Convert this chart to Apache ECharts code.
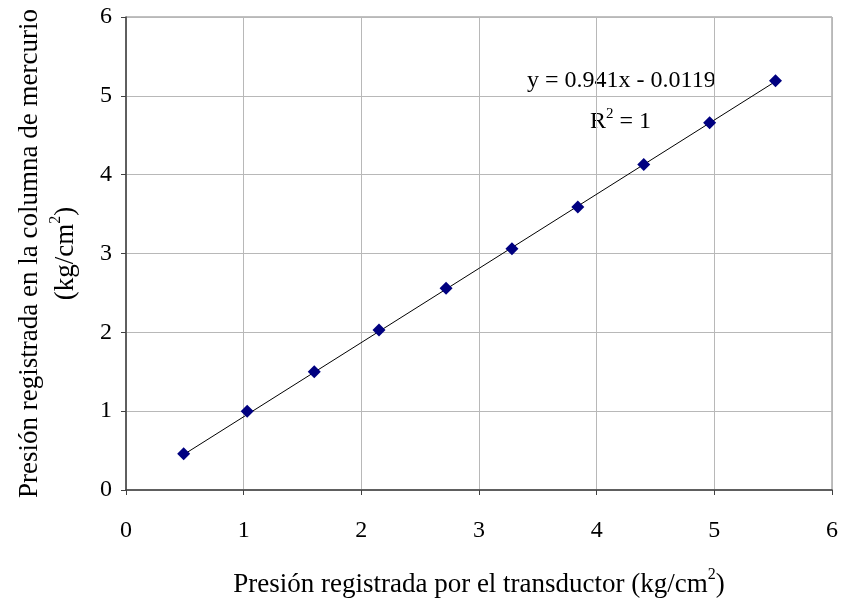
<!DOCTYPE html>
<html>
<head>
<meta charset="utf-8">
<script src="https://cdn.jsdelivr.net/npm/echarts@6/dist/echarts.min.js"></script>
<style>
  html, body { margin: 0; padding: 0; background: #fff; }
  #chart { width: 842px; height: 601px; }
</style>
</head>
<body>
<div id="chart"></div>
<script>
// presion del transductor vs columna de mercurio (kg/cm2)
const transductor = [0.49, 1.03, 1.60, 2.15, 2.72, 3.28, 3.84, 4.40, 4.96, 5.52]
const mercurio = [0.46, 1.00, 1.50, 2.03, 2.56, 3.06, 3.59, 4.13, 4.66, 5.19]
const pendiente = 0.941
const intercepto = -0.0119
const axisTicks = [0, 1, 2, 3, 4, 5, 6]

const font = 'Liberation Serif'
const puntos = transductor.map((x, i) => [x, mercurio[i]])
const xIni = transductor[0]
const xFin = transductor[transductor.length - 1]
const tendencia = [
  [xIni, pendiente * xIni + intercepto],
  [xFin, pendiente * xFin + intercepto],
]

const chart = echarts.init(document.getElementById('chart'))

const supRich = {
  base: { fontFamily: font, fontSize: 27, color: '#000', lineHeight: 36 },
  sup: { fontFamily: font, fontSize: 16, color: '#000', lineHeight: 36, verticalAlign: 'top' },
}
const eqRich = {
  base: { fontFamily: font, fontSize: 24, color: '#000', lineHeight: 30 },
  sup: { fontFamily: font, fontSize: 15, color: '#000', lineHeight: 30, verticalAlign: 'top' },
}

chart.setOption({
  animation: false,
  backgroundColor: '#fff',
  grid: {
    left: 126, right: 10, top: 17, bottom: 111,
    outerBoundsMode: 'none',
    show: true, borderColor: '#808080', borderWidth: 1,
  },
  xAxis: {
    type: 'value',
    min: axisTicks[0],
    max: axisTicks[axisTicks.length - 1],
    interval: 1,
    name: '{base|Presión registrada por el transductor (kg/cm}{sup|2}{base|)}',
    nameLocation: 'middle',
    nameGap: 77,
    nameTextStyle: { rich: supRich },
    axisLine: { onZero: false, lineStyle: { color: '#404040', width: 1.5 } },
    axisTick: { inside: false, length: 5, lineStyle: { color: '#404040' } },
    axisLabel: { color: '#000', fontFamily: font, fontSize: 24, margin: 29 },
    splitLine: { show: true, lineStyle: { color: '#b8b8b8', width: 1 } },
  },
  yAxis: {
    type: 'value',
    min: axisTicks[0],
    max: axisTicks[axisTicks.length - 1],
    interval: 1,
    name: '{base|Presión registrada en la columna de mercurio}\n{base|(kg/cm}{sup|2}{base|)}',
    nameLocation: 'middle',
    nameGap: 42,
    nameTextStyle: { rich: supRich },
    axisLine: { onZero: false, lineStyle: { color: '#404040', width: 1.5 } },
    axisTick: { inside: false, length: 5, lineStyle: { color: '#404040' } },
    axisLabel: { color: '#000', fontFamily: font, fontSize: 24, margin: 14 },
    splitLine: { show: true, lineStyle: { color: '#b8b8b8', width: 1 } },
  },
  graphic: [
    {
      type: 'text',
      left: 527,
      top: 69,
      style: { text: '{base|y = 0.941x - 0.0119}', rich: eqRich },
    },
    {
      type: 'text',
      left: 590,
      top: 107,
      style: { text: '{base|R}{sup|2}{base| = 1}', rich: eqRich },
    },
  ],
  series: [
    {
      type: 'line',
      data: tendencia,
      symbol: 'none',
      lineStyle: { color: '#000', width: 1 },
      silent: true,
      z: 2,
    },
    {
      type: 'scatter',
      data: puntos,
      symbol: 'diamond',
      symbolSize: 13,
      itemStyle: { color: '#000080', opacity: 1 },
      z: 3,
    },
  ],
})
</script>
</body>
</html>
